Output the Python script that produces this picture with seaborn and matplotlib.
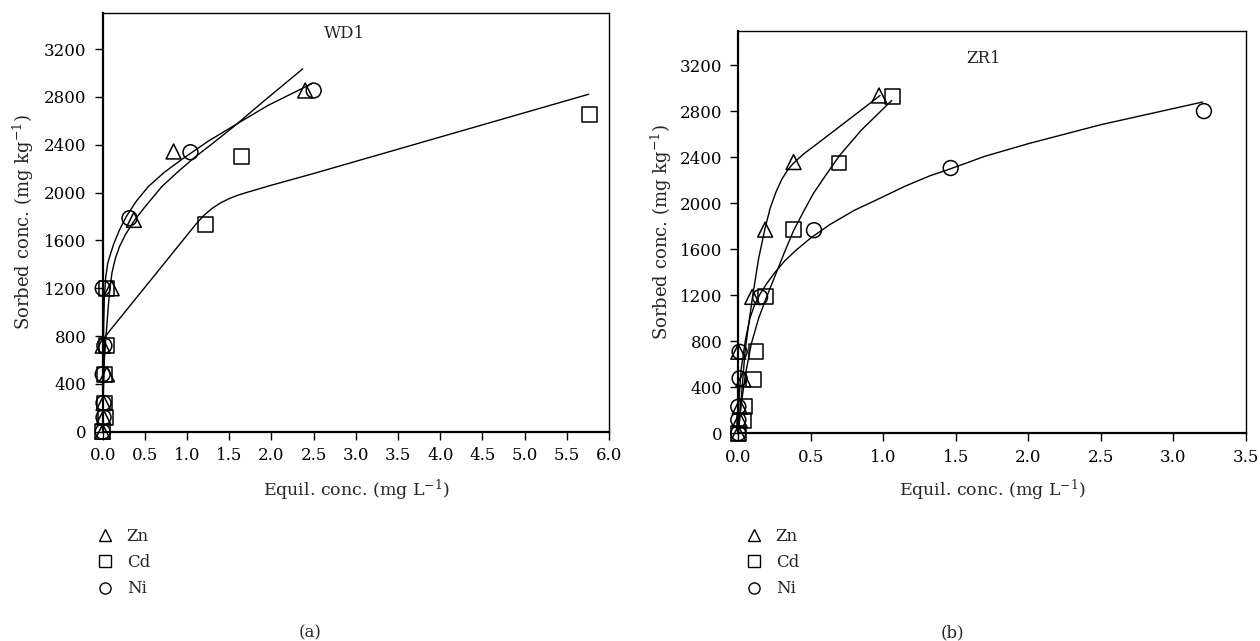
import matplotlib
matplotlib.use("Agg")
import matplotlib.pyplot as plt
from matplotlib.lines import Line2D
import seaborn as sns
import pandas as pd

# ---------------- data ----------------
# WD1 measured points
wd1_zn_x = [0.0, 0.01, 0.01, 0.05, 0.0, 0.106, 0.369, 0.84, 2.40]
wd1_zn_y = [0, 120, 240, 480, 720, 1200, 1772, 2344, 2854]
wd1_cd_x = [0.0, 0.03, 0.02, 0.02, 0.05, 0.04, 1.22, 1.64, 5.77]
wd1_cd_y = [0, 120, 240, 480, 720, 1200, 1730, 2302, 2656]
wd1_ni_x = [0.0, 0.01, 0.01, 0.0, 0.02, 0.0, 0.318, 1.04, 2.50]
wd1_ni_y = [0, 120, 240, 480, 720, 1200, 1786, 2338, 2854]

# WD1 fitted curves
wd1_zn_fx = [0, 0.005, 0.015, 0.03, 0.047, 0.07, 0.086, 0.11, 0.15, 0.20, 0.27, 0.38,
             0.50, 0.70, 0.90, 1.09, 1.30, 1.57, 1.90, 2.37]
wd1_zn_fy = [0, 300, 550, 720, 870, 1080, 1200, 1330, 1450, 1550, 1650, 1772,
             1880, 2050, 2180, 2295, 2410, 2562, 2760, 3035]
wd1_ni_fx = [0, 0.002, 0.006, 0.012, 0.02, 0.035, 0.06, 0.09, 0.13, 0.20, 0.28, 0.40,
             0.54, 0.73, 0.93, 1.25, 1.57, 1.96, 2.49]
wd1_ni_fy = [0, 300, 600, 900, 1130, 1290, 1410, 1480, 1570, 1690, 1800, 1930,
             2050, 2170, 2274, 2430, 2566, 2730, 2915]
wd1_cd_fx = [0, 0.01, 0.027, 0.6, 1.1, 1.2, 1.3, 1.4, 1.5, 1.6, 1.7, 2.0, 2.51, 4.0, 5.76]
wd1_cd_fy = [0, 400, 795, 1295, 1732, 1810, 1870, 1915, 1950, 1978, 2000, 2062, 2162, 2465, 2823]

# ZR1 measured points
zr1_zn_x = [0.0, 0.01, 0.01, 0.035, 0.0, 0.096, 0.185, 0.381, 0.97]
zr1_zn_y = [0, 116, 231, 470, 710, 1187, 1772, 2360, 2939]
zr1_cd_x = [0.0, 0.039, 0.046, 0.103, 0.122, 0.185, 0.379, 0.694, 1.063]
zr1_cd_y = [0, 115, 231, 471, 709, 1187, 1772, 2352, 2931]
zr1_ni_x = [0.0, 0.0, 0.0, 0.009, 0.009, 0.15, 0.522, 1.464, 3.21]
zr1_ni_y = [0, 116, 231, 478, 709, 1185, 1767, 2308, 2803]

# ZR1 fitted curves
zr1_zn_fx = [0, 0.023, 0.046, 0.069, 0.10, 0.14, 0.184, 0.22, 0.26, 0.30, 0.34, 0.38,
             0.45, 0.55, 0.70, 0.85, 0.977]
zr1_zn_fy = [0, 347, 706, 926, 1201, 1520, 1781, 1960, 2100, 2210, 2290, 2350,
             2430, 2525, 2670, 2815, 2939]
zr1_cd_fx = [0, 0.02, 0.05, 0.09, 0.14, 0.19, 0.26, 0.32, 0.38, 0.45, 0.517, 0.60,
             0.70, 0.85, 1.058]
zr1_cd_fy = [0, 250, 520, 780, 1000, 1170, 1390, 1580, 1760, 1930, 2085, 2240,
             2420, 2640, 2896]
zr1_ni_fx = [0, 0.005, 0.02, 0.05, 0.08, 0.11, 0.15, 0.20, 0.253, 0.32, 0.40, 0.50,
             0.63, 0.80, 0.977, 1.15, 1.32, 1.46, 1.70, 2.0, 2.5, 3.2]
zr1_ni_fy = [0, 300, 560, 820, 1000, 1110, 1212, 1310, 1400, 1500, 1595, 1700,
             1815, 1940, 2045, 2150, 2240, 2300, 2410, 2520, 2685, 2882]

metals = ["Zn", "Cd", "Ni"]
markers = {"Zn": "^", "Cd": "s", "Ni": "o"}
x_ticks_a = [0.0, 0.5, 1.0, 1.5, 2.0, 2.5, 3.0, 3.5, 4.0, 4.5, 5.0, 5.5, 6.0]
x_ticks_b = [0.0, 0.5, 1.0, 1.5, 2.0, 2.5, 3.0, 3.5]
y_ticks = [0, 400, 800, 1200, 1600, 2000, 2400, 2800, 3200]


def to_df(xs, ys):
    rows = []
    for m, x, y in zip(metals, xs, ys):
        rows.append(pd.DataFrame({"x": x, "y": y, "metal": m}))
    return pd.concat(rows, ignore_index=True)


pts_a = to_df([wd1_zn_x, wd1_cd_x, wd1_ni_x], [wd1_zn_y, wd1_cd_y, wd1_ni_y])
fit_a = to_df([wd1_zn_fx, wd1_cd_fx, wd1_ni_fx], [wd1_zn_fy, wd1_cd_fy, wd1_ni_fy])
pts_b = to_df([zr1_zn_x, zr1_cd_x, zr1_ni_x], [zr1_zn_y, zr1_cd_y, zr1_ni_y])
fit_b = to_df([zr1_zn_fx, zr1_cd_fx, zr1_ni_fx], [zr1_zn_fy, zr1_cd_fy, zr1_ni_fy])

# ---------------- style ----------------
sns.set_theme(style="ticks")
plt.rcParams["font.family"] = ["DejaVu Serif"]
plt.rcParams["mathtext.fontset"] = "dejavuserif"

W, H = 1260, 641
fig = plt.figure(figsize=(W / 100, H / 100), dpi=100)
fig.patch.set_facecolor("white")

ax1 = fig.add_axes([102.7 / W, (H - 431.7) / H, 506.3 / W, 418.4 / H])
ax2 = fig.add_axes([738.3 / W, (H - 433.3) / H, 507.7 / W, 402.3 / H])


def draw(ax, pts, fit, xmax, xticks, title, tx, ty, ylab_x, xlab_y):
    for m in metals:
        sub = fit[fit.metal == m]
        sns.lineplot(data=sub, x="x", y="y", ax=ax, sort=False, estimator=None,
                     color="black", lw=1.0, legend=False)
    for m in metals:
        sub = pts[pts.metal == m]
        sns.scatterplot(data=sub, x="x", y="y", ax=ax, marker=markers[m], s=115,
                        facecolor="none", edgecolor="black", linewidth=1.1,
                        legend=False, clip_on=False, zorder=5)
    ax.set_xlim(0, xmax)
    ax.set_ylim(0, 3500)
    ax.set_xticks(xticks)
    ax.set_xticklabels([f"{t:.1f}" for t in xticks])
    ax.set_yticks(y_ticks)
    ax.set_yticklabels([str(t) for t in y_ticks])
    ax.set_xlabel("Equil. conc. (mg L$^{-1}$)", fontsize=12.5)
    ax.set_ylabel("Sorbed conc. (mg kg$^{-1}$)", fontsize=13)
    ax.xaxis.label.set_verticalalignment("center")
    ax.yaxis.label.set_verticalalignment("center")
    ax.xaxis.set_label_coords(0.5, xlab_y)
    ax.yaxis.set_label_coords(ylab_x, 0.5)
    ax.tick_params(axis="both", direction="out", length=6, width=1.0,
                   labelsize=12, color="black", labelcolor="black")
    ax.tick_params(axis="x", pad=5)
    ax.tick_params(axis="y", pad=5.5)
    for side in ["left", "bottom"]:
        ax.spines[side].set_linewidth(1.6)
    for side in ["top", "right"]:
        ax.spines[side].set_linewidth(1.0)
    for s in ax.spines.values():
        s.set_color("black")
        s.set_visible(True)
    ax.set_facecolor("white")
    ax.text(tx, ty, title, fontsize=12, ha="center", va="center")


draw(ax1, pts_a, fit_a, 6.0, x_ticks_a, "WD1", 2.87, 3334,
     (23 - 102.7) / 506.3, (431.7 - 490) / 418.4)
draw(ax2, pts_b, fit_b, 3.5, x_ticks_b, "ZR1", 1.69, 3258,
     (661 - 738.3) / 507.7, (433.3 - 490) / 402.3)

handles = [Line2D([], [], ls="none", marker=markers[m], ms=8, mfc="none",
                  mec="black", mew=1.0) for m in metals]
for lx in [96.7, 745.7]:
    fig.legend(handles, metals, loc="upper left",
               bbox_to_anchor=(lx / W, 1 - 528 / H), bbox_transform=fig.transFigure,
               frameon=False, fontsize=12, handlelength=1.0, handletextpad=0.8,
               labelspacing=0.55, borderpad=0, borderaxespad=0)

fig.text(310 / W, 1 - 633 / H, "(a)", fontsize=12, ha="center", va="center")
fig.text(952 / W, 1 - 633 / H, "(b)", fontsize=12, ha="center", va="center")

fig.savefig("out.png", dpi=100, facecolor="white")
